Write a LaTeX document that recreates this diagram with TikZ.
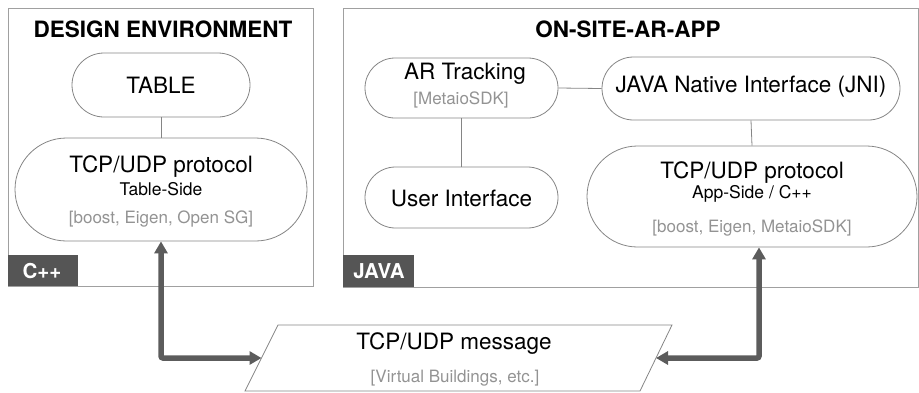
\documentclass[tikz,border=0pt]{standalone}
\usepackage{fontspec}
\setmainfont{TeX Gyre Heros}
\usetikzlibrary{shapes.misc,arrows.meta,calc}
\definecolor{boxline}{HTML}{A0A0A0}
\definecolor{nodeline}{HTML}{858585}
\definecolor{labelfill}{HTML}{555555}
\definecolor{graytext}{HTML}{939393}
\definecolor{arrowcol}{HTML}{5C5C5C}
\tikzset{
  envbox/.style={draw=boxline, line width=0.9pt},
  langlabel/.style={fill=labelfill, draw=none},
  langtext/.style={text=white, font=\fontsize{20.5}{23}\selectfont\bfseries, inner sep=0pt},
  titletext/.style={font=\fontsize{22.5}{26}\selectfont\bfseries, inner sep=0pt},
  pill/.style={rounded rectangle, draw=nodeline, line width=0.8pt, inner sep=0pt},
  maintext/.style={font=\fontsize{22.5}{26}\selectfont, inner sep=0pt},
  subtext/.style={font=\fontsize{17.5}{21}\selectfont, inner sep=0pt},
  greytext/.style={font=\fontsize{17}{20}\selectfont, text=graytext, inner sep=0pt},
  link/.style={draw=nodeline, line width=0.8pt},
  bigarrow/.style={draw=arrowcol, line width=5.5pt, rounded corners=2pt,
    {Triangle[length=12pt,width=13pt]}-{Triangle[length=12pt,width=13pt]}},
}
\begin{document}
\begin{tikzpicture}[x=1pt,y=-1pt]
\useasboundingbox (0,0) rectangle (919,392);
% environment boxes
\draw[envbox] (8,8) rectangle (313,286);
\fill[langlabel] (8,255) rectangle (78,286);
\node[langtext] (cpp) at (42,271) {C++};
\node[titletext] (t1) at (163,29) {DESIGN ENVIRONMENT};

\draw[envbox] (343,8) rectangle (918,287);
\fill[langlabel] (343,255) rectangle (414,287);
\node[langtext] (java) at (379,271) {JAVA};
\node[titletext] (t2) at (628,29) {ON-SITE-AR-APP};

% left nodes
\node[pill, minimum width=178, minimum height=64] (table) at (161,85) {};
\node[maintext] (tablet) at (161,85) {TABLE};
\node[pill, minimum width=292, minimum height=103] (tcpL) at (161,189.5) {};
\node[maintext] (tcpLa) at (161,167) {TCP/UDP protocol};
\node[subtext] (tcpLb) at (161,189) {Table-Side};
\node[greytext] (tcpLc) at (161,219) {[boost, Eigen, Open SG]};

% right nodes
\node[pill, minimum width=193, minimum height=60] (ar) at (461.5,88) {};
\node[maintext] (ara) at (465,74) {AR Tracking};
\node[greytext] (arb) at (461,100) {[MetaioSDK]};
\node[pill, minimum width=298, minimum height=63] (jni) at (751,88.5) {};
\node[maintext] (jnit) at (751,87) {JAVA Native Interface (JNI)};
\node[pill, minimum width=193, minimum height=61] (ui) at (461.5,197.5) {};
\node[maintext] (uit) at (461.5,198) {User Interface};
\node[pill, minimum width=330, minimum height=101] (tcpR) at (752,196.5) {};
\node[maintext] (tcpRa) at (752,173) {TCP/UDP protocol};
\node[subtext] (tcpRb) at (752,194) {App-Side / C++};
\node[greytext] (tcpRc) at (752,228) {[boost, Eigen, MetaioSDK]};

% message parallelogram
\coordinate (pTL) at (278,325);
\coordinate (pTR) at (672,325);
\coordinate (pBR) at (640,391);
\coordinate (pBL) at (245,391);
\draw[link] (pTL) -- (pTR) -- (pBR) -- (pBL) -- cycle;
\coordinate (mL) at ($(pTL)!0.5!(pBL)$);
\coordinate (mR) at ($(pTR)!0.5!(pBR)$);
\node[maintext] (msga) at (454,344) {TCP/UDP message};
\node[greytext] (msgb) at (455,378) {[Virtual Buildings, etc.]};

% connectors
\draw[link] (table.south) -- (tcpL.north);
\draw[link] (ar.east) -- (jni.west);
\draw[link] (ar.south) -- (ui.north);
\draw[link] (jni.south) -- (tcpR.north);

\draw[bigarrow] (tcpL.south) |- (mL);
\draw[bigarrow] ([xshift=7pt]tcpR.south) |- (mR);
\end{tikzpicture}
\end{document}
